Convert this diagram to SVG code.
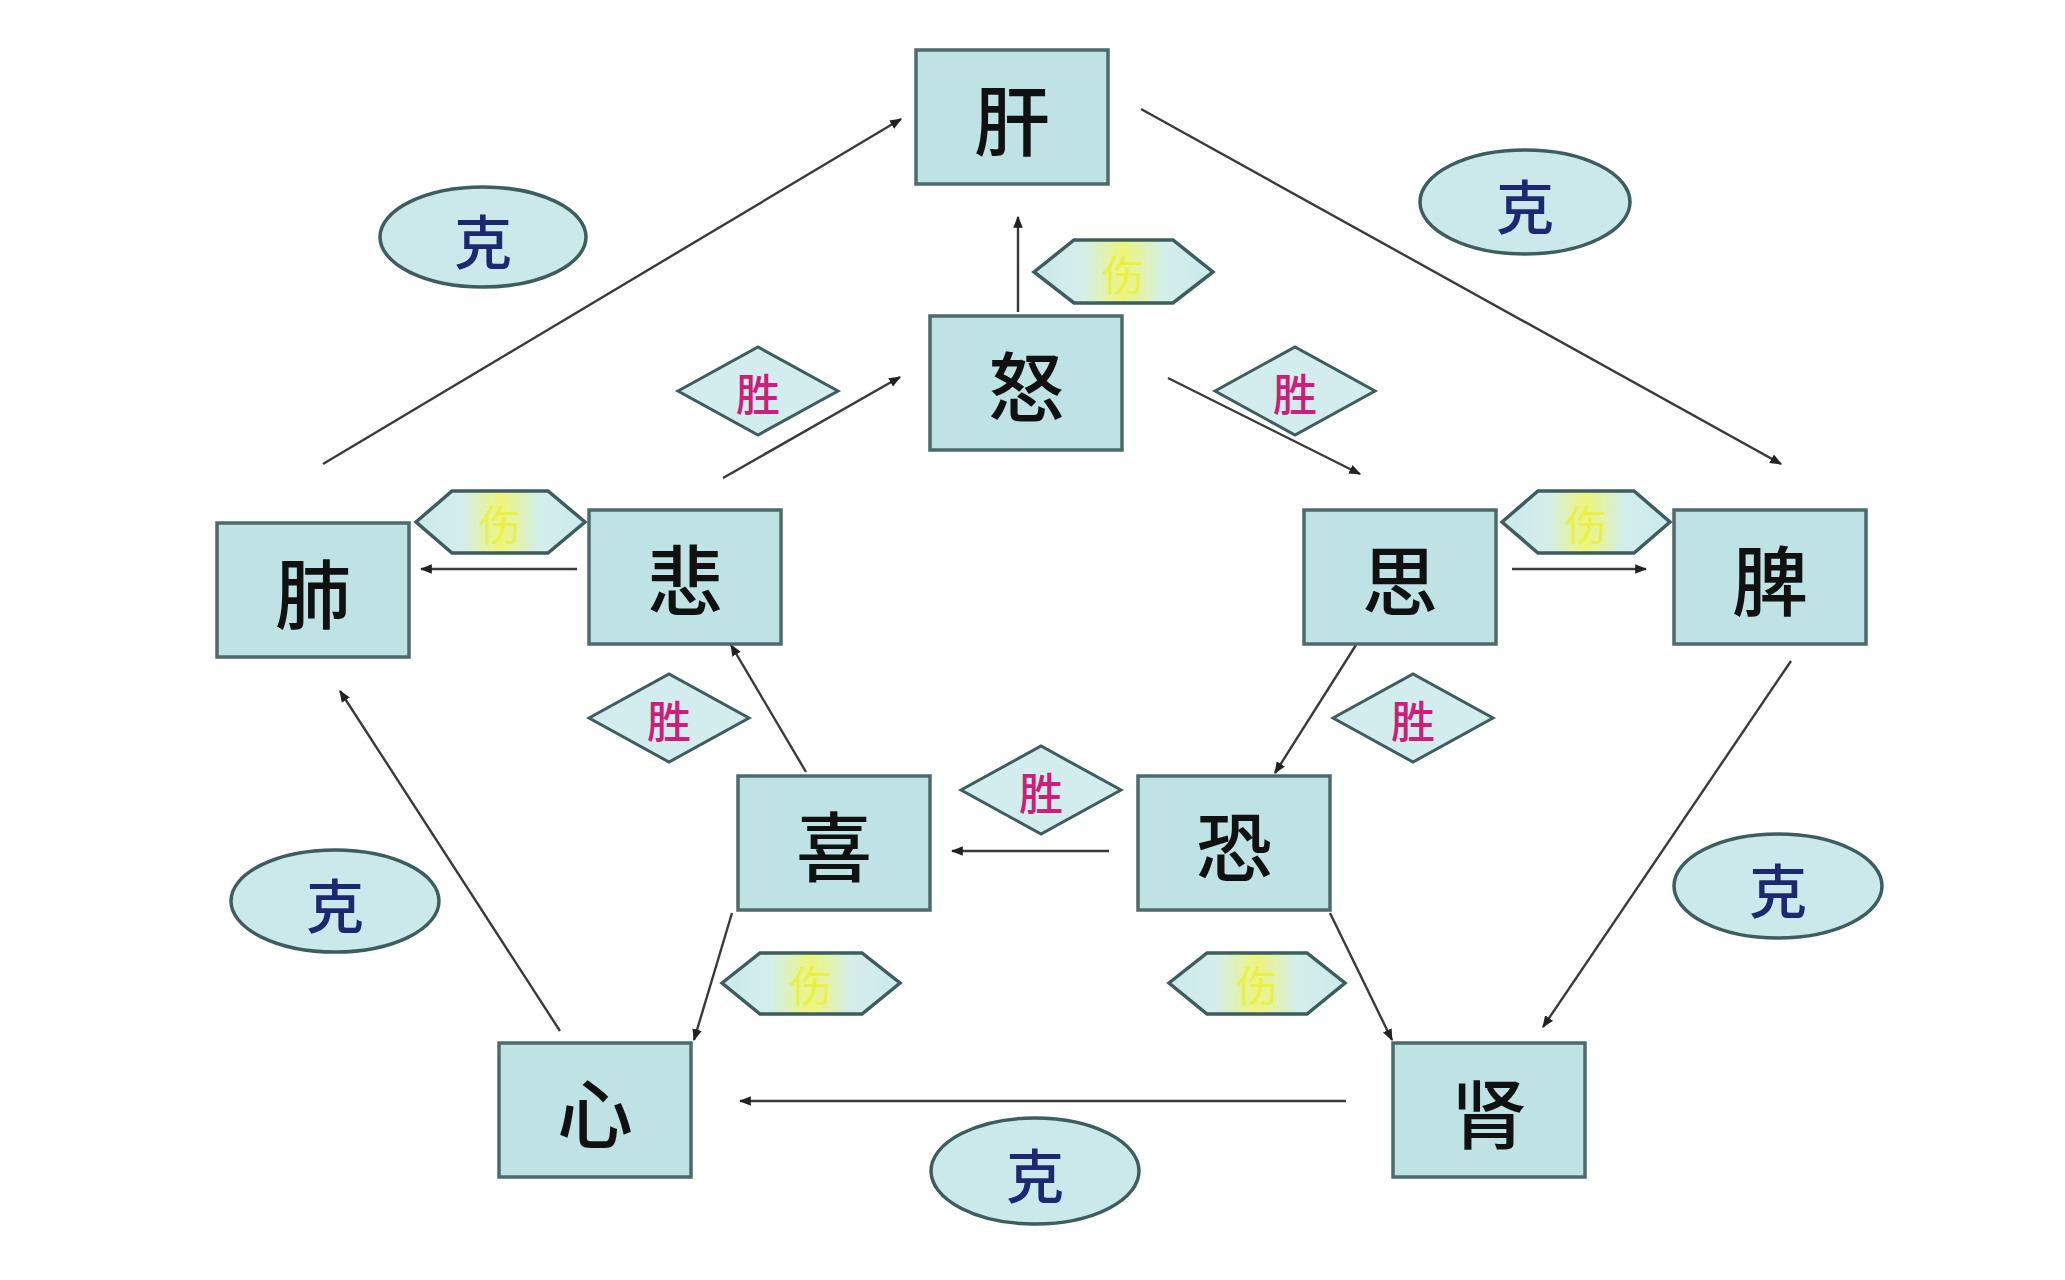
<svg xmlns="http://www.w3.org/2000/svg" width="2065" height="1280" viewBox="0 0 2065 1280">
<style>
.box rect{fill:#bfe2e5;stroke:#4d6b6b;stroke-width:3.5}
.box text{font-family:"Noto Sans CJK SC","Noto Sans CJK TC",sans-serif;font-size:76px;font-weight:500;fill:#111;text-anchor:middle;dominant-baseline:central}
.ke ellipse{fill:#cbe9ea;stroke:#3e5d5e;stroke-width:3.5}
.ke text{font-family:"Noto Sans CJK SC",sans-serif;font-size:58px;font-weight:500;fill:#1c2870;text-anchor:middle;dominant-baseline:central}
.sheng polygon{fill:#d3edef;stroke:#3e5d5e;stroke-width:3}
.sheng text{font-family:"Noto Sans CJK SC",sans-serif;font-size:44px;font-weight:500;fill:#cc1f7a;text-anchor:middle;dominant-baseline:central}
.shang polygon{fill:url(#hexg);stroke:#3e5d5e;stroke-width:3.5}
.shang text{font-family:"Noto Sans CJK SC",sans-serif;font-size:42px;fill:#e8f04a;text-anchor:middle;dominant-baseline:central}
#connectors line{stroke:#3a3a3a;stroke-width:2.4;marker-end:url(#ah)}
</style>
<defs>
<marker id="ah" viewBox="0 0 10 10" refX="9" refY="5" markerWidth="5" markerHeight="5" orient="auto" markerUnits="strokeWidth">
<path d="M0,1 L10,5 L0,9 z" fill="#222"/>
</marker>
<linearGradient id="hexg" x1="0" y1="0" x2="1" y2="0">
<stop offset="0" stop-color="#cbe9ec"/>
<stop offset="0.28" stop-color="#d4eeea"/>
<stop offset="0.5" stop-color="#eef57a"/>
<stop offset="0.72" stop-color="#d4eeea"/>
<stop offset="1" stop-color="#cbe9ec"/>
</linearGradient>
</defs>
<rect width="2065" height="1280" fill="#ffffff"/>

<g id="connectors">
<line x1="323" y1="464" x2="901" y2="119"/>
<line x1="1141" y1="109" x2="1781" y2="464"/>
<line x1="1791" y1="661" x2="1543" y2="1027"/>
<line x1="1346" y1="1101" x2="740" y2="1101"/>
<line x1="560" y1="1031" x2="340" y2="691"/>
<line x1="1018" y1="312" x2="1018" y2="217"/>
<line x1="723" y1="478" x2="900" y2="377"/>
<line x1="1168" y1="378" x2="1360" y2="474"/>
<line x1="577" y1="569" x2="421" y2="569"/>
<line x1="1512" y1="569" x2="1646" y2="569"/>
<line x1="806" y1="772" x2="731" y2="645"/>
<line x1="1356" y1="645" x2="1275" y2="773"/>
<line x1="1109" y1="851" x2="952" y2="851"/>
<line x1="732" y1="913" x2="694" y2="1040"/>
<line x1="1330" y1="913" x2="1392" y2="1040"/>
</g>

<g id="n-gan" class="box"><rect x="916" y="50" width="192" height="134"/><text x="1012" y="117">肝</text></g>
<g id="n-nu" class="box"><rect x="930" y="316" width="192" height="134"/><text x="1026" y="383">怒</text></g>
<g id="n-bei" class="box"><rect x="589" y="510" width="192" height="134"/><text x="685" y="577">悲</text></g>
<g id="n-fei" class="box"><rect x="217" y="523" width="192" height="134"/><text x="313" y="590">肺</text></g>
<g id="n-si" class="box"><rect x="1304" y="510" width="192" height="134"/><text x="1400" y="577">思</text></g>
<g id="n-pi" class="box"><rect x="1674" y="510" width="192" height="134"/><text x="1770" y="577">脾</text></g>
<g id="n-xi" class="box"><rect x="738" y="776" width="192" height="134"/><text x="834" y="843">喜</text></g>
<g id="n-kong" class="box"><rect x="1138" y="776" width="192" height="134"/><text x="1234" y="843">恐</text></g>
<g id="n-xin" class="box"><rect x="499" y="1043" width="192" height="134"/><text x="595" y="1110">心</text></g>
<g id="n-shen" class="box"><rect x="1393" y="1043" width="192" height="134"/><text x="1489" y="1110">肾</text></g>

<g id="ke-1" class="ke"><ellipse cx="483" cy="237" rx="103" ry="50"/><text x="483" y="239">克</text></g>
<g id="ke-2" class="ke"><ellipse cx="1525" cy="202" rx="105" ry="52"/><text x="1525" y="204">克</text></g>
<g id="ke-3" class="ke"><ellipse cx="335" cy="901" rx="104" ry="51"/><text x="335" y="903">克</text></g>
<g id="ke-4" class="ke"><ellipse cx="1778" cy="886" rx="104" ry="52"/><text x="1778" y="888">克</text></g>
<g id="ke-5" class="ke"><ellipse cx="1035" cy="1171" rx="104" ry="53"/><text x="1035" y="1173">克</text></g>

<g id="sheng-1" class="sheng"><polygon points="678,391 758,347 838,391 758,435"/><text x="758" y="392">胜</text></g>
<g id="sheng-2" class="sheng"><polygon points="1215,391 1295,347 1375,391 1295,435"/><text x="1295" y="392">胜</text></g>
<g id="sheng-3" class="sheng"><polygon points="589,718 669,674 749,718 669,762"/><text x="669" y="719">胜</text></g>
<g id="sheng-4" class="sheng"><polygon points="1333,718 1413,674 1493,718 1413,762"/><text x="1413" y="719">胜</text></g>
<g id="sheng-5" class="sheng"><polygon points="961,790 1041,746 1121,790 1041,834"/><text x="1041" y="791">胜</text></g>

<g id="shang-1" class="shang"><polygon points="1034,272 1074,240 1173,240 1213,272 1173,303 1074,303"/><text x="1123" y="272">伤</text></g>
<g id="shang-2" class="shang"><polygon points="416,522 452,491 548,491 585,522 548,553 452,553"/><text x="500" y="522">伤</text></g>
<g id="shang-3" class="shang"><polygon points="1502,522 1538,491 1634,491 1670,522 1634,553 1538,553"/><text x="1586" y="522">伤</text></g>
<g id="shang-4" class="shang"><polygon points="722,983 760,953 862,953 900,983 862,1014 760,1014"/><text x="811" y="983">伤</text></g>
<g id="shang-5" class="shang"><polygon points="1169,983 1207,953 1307,953 1345,983 1307,1014 1207,1014"/><text x="1257" y="983">伤</text></g>
</svg>
